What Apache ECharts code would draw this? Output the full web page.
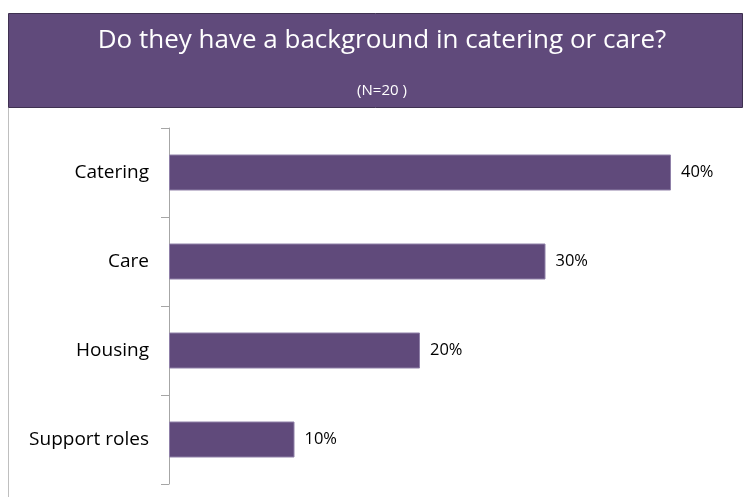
<!DOCTYPE html>
<html>
<head>
<meta charset="utf-8">
<script src="https://cdn.jsdelivr.net/npm/echarts@6/dist/echarts.min.js"></script>
<style>
  html, body { margin: 0; padding: 0; background: #ffffff; }
  #chart { width: 743px; height: 497px; }
</style>
</head>
<body>
<div id="chart"></div>
<script>
// Survey answers: share of respondents by background
const categories = ['Catering', 'Care', 'Housing', 'Support roles'];
const shares = [40, 30, 20, 10];
const titleText = 'Do they have a background in catering or care?';
const subtitleText = '(N=20 )';

const purple = '#604A7B';
const font = '"Open Sans", "Noto Sans", sans-serif';

const chart = echarts.init(document.getElementById('chart'), null, { renderer: 'canvas' });

chart.setOption({
  backgroundColor: '#ffffff',
  animation: false,
  graphic: [
    // left edge of the white panel
    {
      type: 'line', z: 0,
      shape: { x1: 8.5, y1: 108, x2: 8.5, y2: 497 },
      style: { stroke: '#bfbfbf', lineWidth: 1 }
    },
    // header banner
    {
      type: 'rect', z: 1,
      shape: { x: 8.5, y: 13.5, width: 734, height: 94 },
      style: { fill: purple, stroke: '#3f3151', lineWidth: 1 }
    },
    {
      type: 'text', z: 2,
      x: 382, y: 41,
      style: {
        text: titleText, fill: '#ffffff', font: '26px ' + font,
        textAlign: 'center', textVerticalAlign: 'middle'
      }
    },
    {
      type: 'text', z: 2,
      x: 382, y: 91,
      style: {
        text: subtitleText, fill: '#ffffff', font: '15px ' + font,
        textAlign: 'center', textVerticalAlign: 'middle'
      }
    }
  ],
  grid: { left: 169, top: 128, bottom: 13, width: 502, containLabel: false },
  xAxis: {
    type: 'value', min: 0, max: 40,
    show: false
  },
  yAxis: {
    type: 'category',
    data: categories,
    inverse: true,
    axisLine: { show: true, lineStyle: { color: '#a6a6a6', width: 1 } },
    axisTick: { show: true, length: 8, lineStyle: { color: '#a6a6a6' } },
    axisLabel: { color: '#000000', fontSize: 19, fontFamily: font, margin: 20 },
    splitLine: { show: false }
  },
  series: [{
    type: 'bar',
    data: shares,
    barWidth: 36,
    itemStyle: { color: purple, borderColor: '#8f80a8', borderWidth: 1 },
    label: {
      show: true,
      position: 'right',
      distance: 10,
      formatter: p => p.value + '%',
      color: '#000000',
      fontSize: 16.5,
      fontFamily: font
    }
  }]
});
</script>
</body>
</html>
